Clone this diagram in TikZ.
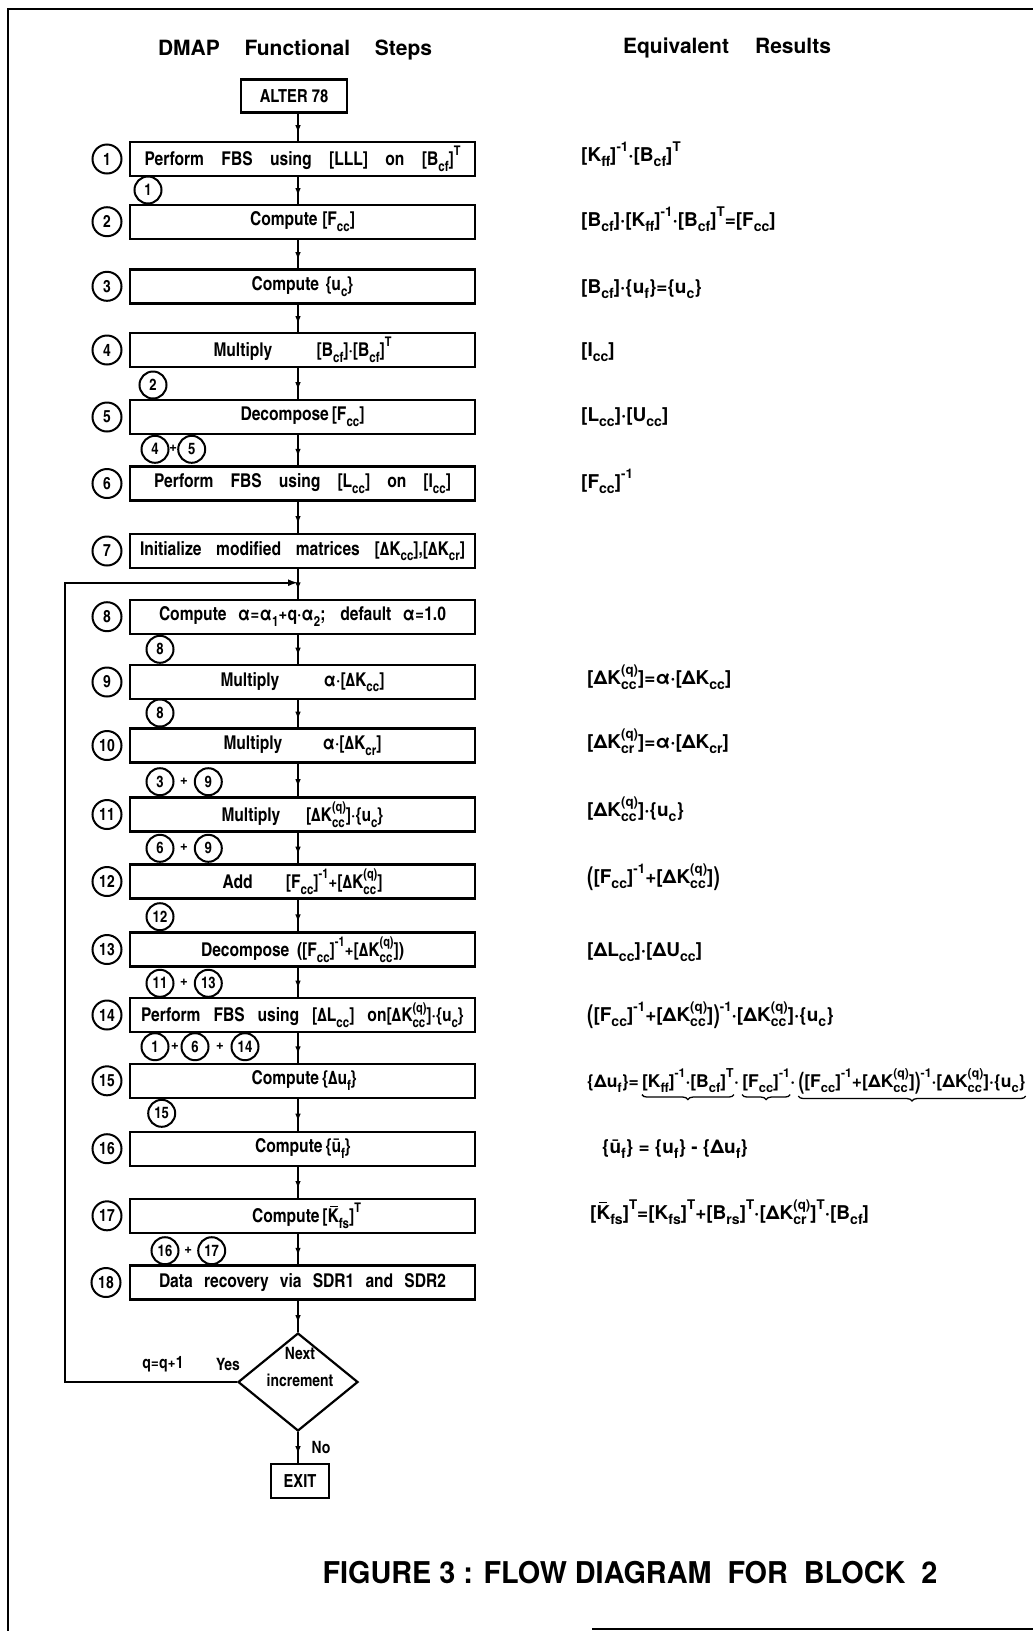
\documentclass[tikz,border=0pt]{standalone}
\usepackage{fontspec}
\usepackage{amsmath}
\usepackage{graphicx}
\setmainfont{texgyreheroscn}[Extension=.otf,UprightFont=*-bold,BoldFont=*-bold]
\newfontfamily\capfont{texgyreheros}[Extension=.otf,UprightFont=*-bold]
\usetikzlibrary{shapes.geometric,arrows.meta,decorations.markings,decorations.pathreplacing,calc}
\newsavebox\supbx
\newsavebox\subbx
\newcommand\subx[1]{\raisebox{-0.3em}{\scalebox{0.74}{#1}}}
\newcommand\supx[1]{\raisebox{0.52em}{\scalebox{0.7}{#1}}}
\newcommand\sbsp[2]{\sbox\supbx{\supx{#1}}\sbox\subbx{\subx{#2}}\ifdim\wd\supbx>\wd\subbx \rlap{\usebox\subbx}\usebox\supbx\else\rlap{\usebox\supbx}\usebox\subbx\fi}
\newcommand\lparx{\raisebox{-0.12em}{\scalebox{1}[1.35]{(}}}
\newcommand\rparx{\raisebox{-0.12em}{\scalebox{1}[1.35]{)}}}
\newcommand\kbar{\leavevmode\rlap{\hspace{0.12em}\raisebox{0.82em}{\rule{0.42em}{0.07em}}}K}
\tikzset{
  stepbox/.style={draw, line width=2.4pt, minimum width=345pt, minimum height=34pt, inner sep=0pt, font=\fontsize{19}{22}\selectfont},
  numc/.style={draw, circle, line width=2pt, minimum size=29pt, inner sep=0pt, font=\fontsize{17}{17}\selectfont},
  refc/.style={draw, circle, line width=2pt, minimum size=27pt, inner sep=0pt, font=\fontsize{16}{16}\selectfont},
  plusx/.style={inner sep=0pt, font=\fontsize{17}{17}\selectfont},
  res/.style={anchor=base west, inner sep=0pt, font=\capfont\fontsize{19}{22}\selectfont},
  res15/.style={anchor=base west, inner sep=0pt, font=\capfont\fontsize{17.5}{20}\selectfont},
  ubrace/.style={decorate, decoration={brace, mirror, amplitude=5pt}, line width=1.3pt},
  lbl/.style={inner sep=0pt, font=\fontsize{17}{17}\selectfont},
  flow/.style={line width=2.2pt, postaction={decorate}, decoration={markings, mark=at position 0.72 with {\arrow{Latex[length=8pt,width=5.5pt]}}}},
  frame/.style={line width=2.2pt},
}
\begin{document}
\begin{tikzpicture}[x=1pt,y=-1pt]
\useasboundingbox (0,0) rectangle (1033,1631);
\draw[frame] (8,1631) -- (8,9) -- (1033,9);
\draw[frame] (592,1629) -- (1033,1629);

\node[inner sep=0pt] (t1) at (295,50) {\capfont\fontsize{21}{21}\selectfont\makebox[274pt][s]{DMAP Functional Steps}};
\node[inner sep=0pt] (t2) at (727,48) {\capfont\fontsize{21}{21}\selectfont\makebox[208pt][s]{Equivalent Results}};

\coordinate (spine) at (298,0);
\node[draw, line width=2.4pt, minimum width=106pt, minimum height=33pt, font=\fontsize{18}{18}\selectfont] (alter) at (294,96) {ALTER 78};

\node[stepbox] (b1) at (302.5,159) {\makebox[316pt][s]{Perform FBS using [LLL] on [B\subx{cf}]\supx{T}}};
\node[stepbox] (b2) at (302.5,221.7) {\makebox[105pt][s]{Compute [F\subx{cc}]}};
\node[stepbox] (b3) at (302.5,286.3) {\makebox[102pt][s]{Compute \{u\subx{c}\}}};
\node[stepbox] (b4) at (302.5,350) {\makebox[178pt][s]{Multiply [B\subx{cf}]·[B\subx{cf}]\supx{T}}};
\node[stepbox] (b5) at (302.5,417) {\makebox[124pt][s]{Decompose [F\subx{cc}]}};
\node[stepbox] (b6) at (302.5,483.5) {\makebox[297pt][s]{Perform FBS using [L\subx{cc}] on [I\subx{cc}]}};
\node[stepbox] (b7) at (302.5,551) {\makebox[325pt][s]{Initialize modified matrices [ΔK\subx{cc}],[ΔK\subx{cr}]}};
\node[stepbox] (b8) at (302.5,616.7) {\makebox[287pt][s]{Compute α=α\subx{1}+q·α\subx{2}; default α=1.0}};
\node[stepbox] (b9) at (302.5,682) {\makebox[164pt][s]{Multiply α·[ΔK\subx{cc}]}};
\node[stepbox] (b10) at (302.5,745.5) {\makebox[158pt][s]{Multiply α·[ΔK\subx{cr}]}};
\node[stepbox] (b11) at (302.5,814.5) {\makebox[162pt][s]{Multiply [ΔK\sbsp{(q)}{cc}]·\{u\subx{c}\}}};
\node[stepbox] (b12) at (302.5,881.5) {\makebox[160pt][s]{Add [F\subx{cc}]\supx{-1}+[ΔK\sbsp{(q)}{cc}]}};
\node[stepbox] (b13) at (302.5,949.5) {\makebox[203pt][s]{Decompose ([F\subx{cc}]\supx{-1}+[ΔK\sbsp{(q)}{cc}])}};
\node[stepbox] (b14) at (302.5,1015) {\makebox[323pt][s]{Perform FBS using [ΔL\subx{cc}] on[ΔK\sbsp{(q)}{cc}]·\{u\subx{c}\}}};
\node[stepbox] (b15) at (302.5,1080.8) {\makebox[102pt][s]{Compute \{Δu\subx{f}\}}};
\node[stepbox] (b16) at (302.5,1148.7) {\makebox[95pt][s]{Compute \{ū\subx{f}\}}};
\node[stepbox] (b17) at (302.5,1215.8) {\makebox[101pt][s]{Compute [\kbar\subx{fs}]\supx{T}}};
\node[stepbox] (b18) at (302.5,1282.5) {\makebox[287pt][s]{Data recovery via SDR1 and SDR2}};

\node[numc] (n1) at (107,159) {1};
\node[numc] (n2) at (107,221.7) {2};
\node[numc] (n3) at (107,286.3) {3};
\node[numc] (n4) at (107,350) {4};
\node[numc] (n5) at (107,417) {5};
\node[numc] (n6) at (107,483.5) {6};
\node[numc] (n7) at (107,551) {7};
\node[numc] (n8) at (107,616.7) {8};
\node[numc] (n9) at (107,682) {9};
\node[numc] (n10) at (107,745.5) {10};
\node[numc] (n11) at (107,814.5) {11};
\node[numc] (n12) at (107,881.5) {12};
\node[numc] (n13) at (107,949.5) {13};
\node[numc] (n14) at (107,1015) {14};
\node[numc] (n15) at (107,1080.8) {15};
\node[numc] (n16) at (107,1148.7) {16};
\node[numc] (n17) at (107,1215.8) {17};
\node[numc] (n18) at (106,1282.5) {18};

\node[refc] (r1) at (148,190) {1};
\node[refc] (r2) at (153,385) {2};
\node[refc] (r4a) at (155,449.3) {4};
\node[plusx] (p4) at (173.3,449.3) {+};
\node[refc] (r5a) at (191.7,449.3) {5};
\node[refc] (r8a) at (160,649.3) {8};
\node[refc] (r8b) at (160,713) {8};
\node[refc] (r3a) at (160,781.7) {3};
\node[plusx] (p3) at (184,781.7) {+};
\node[refc] (r9a) at (208.3,781.7) {9};
\node[refc] (r6a) at (160,848.3) {6};
\node[plusx] (p6) at (184,848.3) {+};
\node[refc] (r9b) at (208.3,848.3) {9};
\node[refc] (r12a) at (160,916.7) {12};
\node[refc] (r11a) at (160,983.3) {11};
\node[plusx] (p11) at (184,983.3) {+};
\node[refc] (r13a) at (208.3,983.3) {13};
\node[refc] (r1b) at (155,1046.7) {1};
\node[plusx] (p1b) at (175,1046.7) {+};
\node[refc] (r6b) at (195,1046.7) {6};
\node[plusx] (p6b) at (220,1046.7) {+};
\node[refc] (r14a) at (245,1046.7) {14};
\node[refc] (r15a) at (161.7,1113.3) {15};
\node[refc] (r16a) at (165,1250.7) {16};
\node[plusx] (p16) at (188.3,1250.7) {+};
\node[refc] (r17a) at (211.7,1250.7) {17};

\draw[flow] (alter.south -| spine) -- (b1.north -| spine);
\foreach \i/\j in {1/2,2/3,3/4,4/5,5/6,6/7,7/8,8/9,9/10,10/11,11/12,12/13,13/14,14/15,15/16,16/17,17/18}
  \draw[flow] (b\i.south -| spine) -- (b\j.north -| spine);

\node[diamond, draw, line width=2.2pt, minimum width=120pt, minimum height=98pt, aspect=1.22, inner sep=0pt] (dec) at (298,1382) {};
\node[lbl] (dn1) at (300,1353) {Next};
\node[lbl] (dn2) at (300,1380) {increment};
\draw[flow] (b18.south -| spine) -- (dec.north);
\node[draw, line width=2.4pt, minimum width=58pt, minimum height=34pt, font=\fontsize{18}{18}\selectfont] (exit) at (300,1481) {EXIT};
\draw[flow] (dec.south) -- (exit.north -| dec.south);
\node[lbl] (no) at (321,1447) {No};

\coordinate (loopA) at (65,1382);
\coordinate (loopB) at (65,582.7);
\coordinate (join) at (298,582.7);
\draw[line width=2.2pt, -{Latex[length=10pt,width=7pt]}] (dec.west) -- (loopA) -- (loopB) -- (join);
\node[lbl] (qq) at (163,1364) {q=q+1};
\node[lbl] (yes) at (228,1364) {Yes};

\node[res] (e1) at (581,161) {[K\subx{ff}]\supx{-1}·[B\subx{cf}]\supx{T}};
\node[res] (e2) at (581,226) {[B\subx{cf}]·[K\subx{ff}]\supx{-1}·[B\subx{cf}]\supx{T}=[F\subx{cc}]};
\node[res] (e3) at (581,293) {[B\subx{cf}]·\{u\subx{f}\}=\{u\subx{c}\}};
\node[res] (e4) at (581,356) {[I\subx{cc}]};
\node[res] (e5) at (581,421) {[L\subx{cc}]·[U\subx{cc}]};
\node[res] (e6) at (581,488) {[F\subx{cc}]\supx{-1}};
\node[res] (e9) at (587,684) {[ΔK\sbsp{(q)}{cc}]=α·[ΔK\subx{cc}]};
\node[res] (e10) at (587,748) {[ΔK\sbsp{(q)}{cr}]=α·[ΔK\subx{cr}]};
\node[res] (e11) at (587,816) {[ΔK\sbsp{(q)}{cc}]·\{u\subx{c}\}};
\node[res] (e12) at (587,883) {\lparx[F\subx{cc}]\supx{-1}+[ΔK\sbsp{(q)}{cc}]\rparx};
\node[res] (e13) at (587,956) {[ΔL\subx{cc}]·[ΔU\subx{cc}]};
\node[res] (e14) at (587,1021) {\lparx[F\subx{cc}]\supx{-1}+[ΔK\sbsp{(q)}{cc}]\rparx\supx{-1}·[ΔK\sbsp{(q)}{cc}]·\{u\subx{c}\}};

\node[res15] (e15a) at (587,1087) {\{Δu\subx{f}\}=\,};
\node[res15] (e15b) at (e15a.base east) {[K\subx{ff}]\supx{-1}·[B\subx{cf}]\supx{T}};
\node[res15] (e15c) at (e15b.base east) {·\,};
\node[res15] (e15d) at (e15c.base east) {[F\subx{cc}]\supx{-1}};
\node[res15] (e15e) at (e15d.base east) {·\,};
\node[res15] (e15f) at (e15e.base east) {\lparx[F\subx{cc}]\supx{-1}+[ΔK\sbsp{(q)}{cc}]\rparx\supx{-1}·[ΔK\sbsp{(q)}{cc}]·\{u\subx{c}\}};
\draw[ubrace] ([yshift=-2pt]e15b.south west) -- ([yshift=-2pt]e15b.south east);
\draw[ubrace] ([yshift=-2pt]e15d.south west) -- ([yshift=-2pt]e15d.south east);
\draw[ubrace] ([yshift=-2pt]e15f.south west) -- ([yshift=-2pt]e15f.south east);

\node[res] (e16) at (602,1153) {\{ū\subx{f}\} = \{u\subx{f}\} - \{Δu\subx{f}\}};
\node[res] (e17) at (590,1219) {[\kbar\subx{fs}]\supx{T}=[K\subx{fs}]\supx{T}+[B\subx{rs}]\supx{T}·[ΔK\sbsp{(q)}{cr}]\supx{T}·[B\subx{cf}]};

\node[inner sep=0pt] (cap) at (630,1573) {\capfont\fontsize{30}{30}\selectfont\scalebox{0.96}[1]{FIGURE 3 : FLOW DIAGRAM\ \ FOR\ \ BLOCK\ \ 2}};
\end{tikzpicture}
\end{document}
